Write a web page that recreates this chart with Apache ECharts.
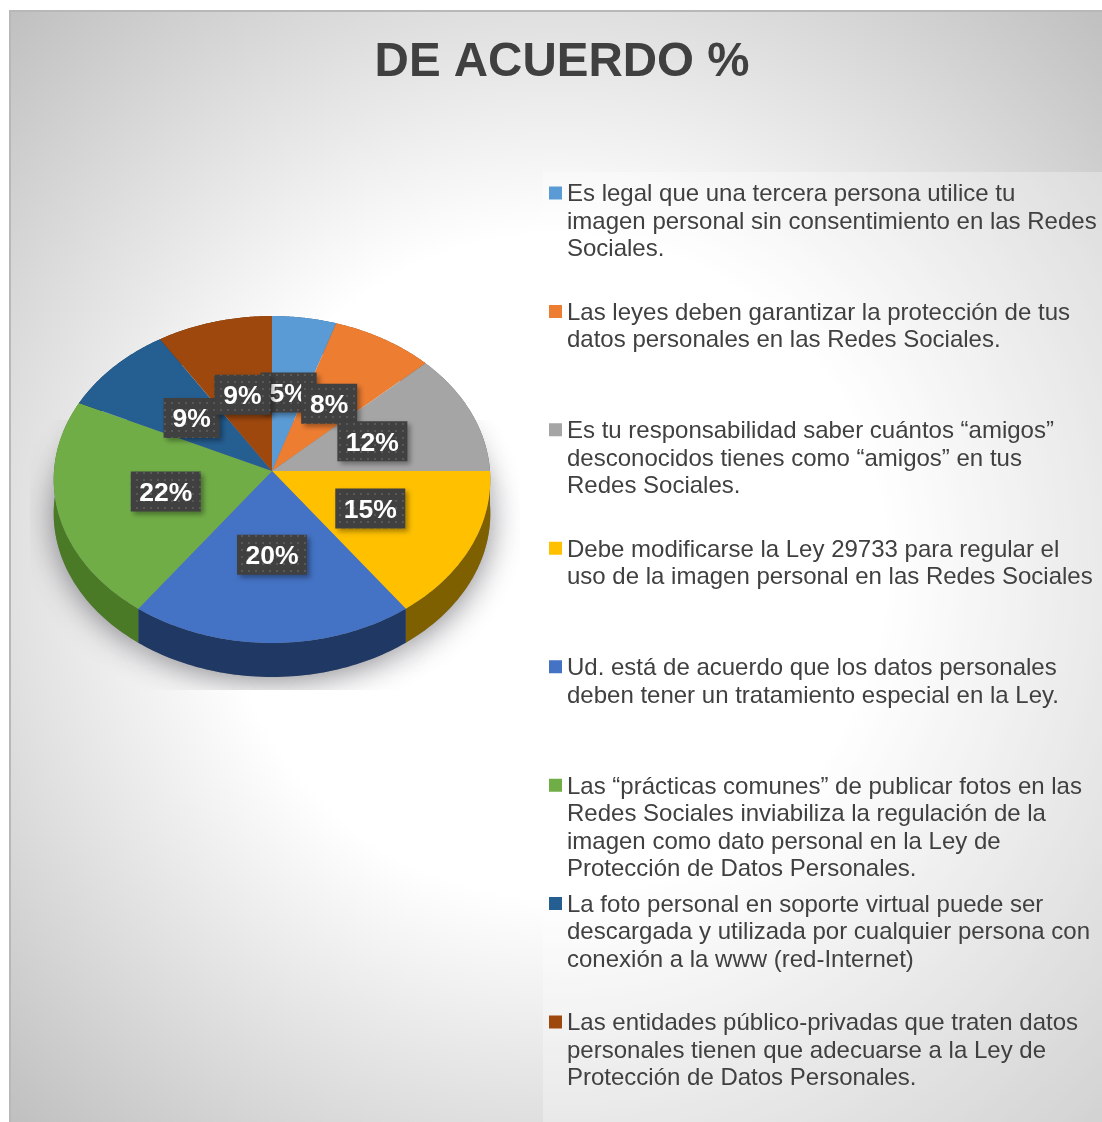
<!DOCTYPE html>
<html><head><meta charset="utf-8">
<style>html,body{margin:0;padding:0;background:#fff}#c{width:1102px;height:1122px}</style>
<script src="https://cdn.jsdelivr.net/npm/echarts@6/dist/echarts.min.js"></script>
</head><body><div id="c"></div>
<script>
const titleText = 'DE ACUERDO %';
const categories = [
 'Es legal que una tercera persona utilice tu\nimagen personal sin consentimiento en las Redes\nSociales.',
 'Las leyes deben garantizar la protección de tus\ndatos personales en las Redes Sociales.',
 'Es tu responsabilidad saber cuántos “amigos”\ndesconocidos tienes como “amigos” en tus\nRedes Sociales.',
 'Debe modificarse la Ley 29733 para regular el\nuso de la imagen personal en las Redes Sociales',
 'Ud. está de acuerdo que los datos personales\ndeben tener un tratamiento especial en la Ley.',
 'Las “prácticas comunes” de publicar fotos en las\nRedes Sociales inviabiliza la regulación de la\nimagen como dato personal en la Ley de\nProtección de Datos Personales.',
 'La foto personal en soporte virtual puede ser\ndescargada y utilizada por cualquier persona con\nconexión a la www (red-Internet)',
 'Las entidades público-privadas que traten datos\npersonales tienen que adecuarse a la Ley de\nProtección de Datos Personales.'
];
const values = [5, 8, 12, 15, 20, 22, 9, 9];
const colors = ['#5b9bd5','#ed7d31','#a5a5a5','#ffc000','#4472c4','#70ad47','#255e91','#9e480e'];
const sideColors = ['#2e5f8c','#8f4a1a','#636363','#7f6000','#1f3864','#4a7a25','#163a5c','#5f2c08'];

const CX=272, CY=471, RX=218, RY=163, PERSP=0.052, DEPTH=34, FS=26.5, LH=27.5;
const total = values.reduce((a,b)=>a+b,0);
const startFrac = values.map((v,i)=>values.slice(0,i).reduce((a,b)=>a+b,0)/total);
function proj(theta, f, dy){
  const s = 1/(1+PERSP*Math.cos(theta)*f);
  return [CX+RX*f*Math.sin(theta)*s, CY-RY*f*Math.cos(theta)*s+(dy||0)];
}
function sectorPoints(i, dy){
  const a0=startFrac[i]*2*Math.PI, a1=a0+values[i]/total*2*Math.PI, n=60, pts=[proj(0,0,dy)];
  for(let k=0;k<=n;k++) pts.push(proj(a0+(a1-a0)*k/n,1,dy));
  return pts;
}
function dotCanvas(){
  const c=document.createElement('canvas'); c.width=7;c.height=7;
  const g=c.getContext('2d'); g.fillStyle='#404040';g.fillRect(0,0,7,7);
  g.fillStyle='#585858';g.fillRect(3,3,2,2);
  return c;
}
const pattern={image:dotCanvas(),repeat:'repeat'};
const idx=values.map((_,i)=>i);
const shadowClip={type:'rect',shape:{x:30,y:420,width:490,height:270}};

const series=[];
series.push({type:'custom',name:'_shadow',coordinateSystem:'none',silent:true,z:1,data:idx,
 renderItem:(p,api)=>{
  const i=api.value(0);
  return {type:'polygon',clipPath:shadowClip,shape:{points:sectorPoints(i,DEPTH)},style:{fill:'#888',shadowBlur:32,shadowColor:'rgba(70,70,80,0.65)',shadowOffsetY:4}};
 }});
series.push({type:'custom',name:'_wall',coordinateSystem:'none',silent:true,z:2,data:idx,
 renderItem:(p,api)=>{
  const i=api.value(0),top=sectorPoints(i,0).slice(1),bot=sectorPoints(i,DEPTH).slice(1).reverse();
  return {type:'polygon',shape:{points:top.concat(bot)},style:{fill:sideColors[i]}};
 }});
categories.forEach((name,i)=>{
 series.push({type:'custom',name,coordinateSystem:'none',silent:true,z:3,
  itemStyle:{color:colors[i]},data:[values[i]],
  renderItem:()=>({type:'polygon',shape:{points:sectorPoints(i,0)},style:{fill:colors[i]}})
 });
});
series.push({type:'custom',name:'_labels',coordinateSystem:'none',silent:true,z:4,data:idx,
 renderItem:(p,api)=>{
  const i=api.value(0),a=(startFrac[i]+values[i]/total/2)*2*Math.PI,pt=proj(a,0.5,0);
  const txt=values[i]+'%',w=txt.length===2?56:70,h=40;
  return {type:'group',children:[
   {type:'rect',shape:{x:pt[0]-w/2,y:pt[1]-h/2,width:w,height:h},
    style:{fill:pattern,shadowBlur:5,shadowOffsetX:3,shadowOffsetY:3,shadowColor:'rgba(0,0,0,0.35)'}},
   {type:'text',x:pt[0],y:pt[1]+2,style:{text:txt,fill:'#fff',font:'bold '+FS+'px "Liberation Sans"',align:'center',verticalAlign:'middle'}}
  ]};
 }});

const legends=categories.map((name,i)=>{
 const lines=name.split('\n').length,H=lines*LH;
 return {show:true,data:[name],selectedMode:false,orient:'vertical',left:549,top:181+118.43*i,
  itemWidth:13,itemHeight:H,itemGap:0,padding:0,
  icon:'path://M0 0L0.01 0ZM0 5.5H13V18.5H0ZM13 '+H+'L13 '+(H-0.01)+'Z',
  textStyle:{color:'#404040',fontSize:24,lineHeight:LH,fontFamily:'"Liberation Sans"'}};
});

const chart=echarts.init(document.getElementById('c'),null,{renderer:'canvas'});
chart.setOption({
 animation:false,backgroundColor:'#ffffff',
 title:{text:titleText,left:557,top:34,textAlign:'center',textStyle:{color:'#404040',fontSize:47.5,fontWeight:'bold',fontFamily:'"Liberation Sans"'}},
 legend:legends,
 graphic:[
  {type:'rect',z:-10,silent:true,shape:{x:9,y:10,width:1093,height:1112},
   style:{fill:{type:'radial',x:0.5,y:0.5,r:0.71,colorStops:[{offset:0,color:'#ffffff'},{offset:0.426,color:'#ffffff'},{offset:1,color:'#c0c0c0'}]}}},
  {type:'rect',z:-9,silent:true,shape:{x:9,y:10,width:2,height:1112},style:{fill:'#b8b8b8'}},
  {type:'rect',z:-9,silent:true,shape:{x:9,y:10,width:1093,height:2},style:{fill:'#b8b8b8'}},
  {type:'rect',z:-8,silent:true,shape:{x:543,y:172,width:559,height:950},style:{fill:'rgba(255,255,255,0.3)'}}
 ],
 series
});
</script></body></html>
